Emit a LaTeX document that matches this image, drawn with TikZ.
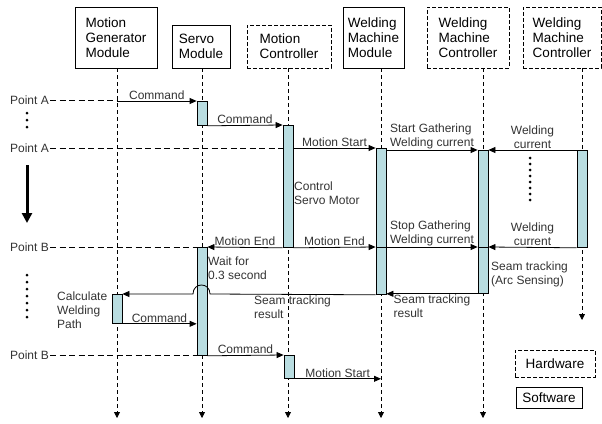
\documentclass[tikz,border=0pt]{standalone}
\usepackage{fontspec}
\setmainfont{Liberation Sans}
\usetikzlibrary{arrows.meta}
\definecolor{actblue}{HTML}{B9DDE1}
\definecolor{lblgray}{HTML}{333333}
\begin{document}
\begin{tikzpicture}[x=1pt,y=-1pt,
  swbox/.style={draw,line width=0.8pt,align=left,inner sep=0pt,font=\fontsize{13.5}{15}\selectfont},
  hwbox/.style={swbox,dash pattern=on 4pt off 2pt},
  act/.style={draw,line width=0.8pt,fill=actblue,minimum width=10pt,inner sep=0pt,anchor=north},
  life/.style={line width=0.8pt,dash pattern=on 4pt off 3pt,-{Triangle[length=6pt,width=6pt]}},
  msg/.style={line width=0.8pt,-{Triangle[length=7pt,width=6pt]}},
  ptline/.style={line width=0.8pt,dash pattern=on 6pt off 3.5pt},
  lbl/.style={text=lblgray,font=\fontsize{12}{14}\selectfont,align=left,inner sep=1pt}]
  \useasboundingbox (0,0) rectangle (602,423);

  \node[swbox,minimum width=82,minimum height=61] (mgm) at (116,37.5) {Motion\\Generator\\Module};
  \node[swbox,minimum width=58,minimum height=43] (srv) at (201,46.5) {Servo\\Module};
  \node[hwbox,minimum width=84,minimum height=43] (mc) at (289,46.5) {Motion\\Controller};
  \node[swbox,minimum width=61,minimum height=61] (wmm) at (373.5,37.5) {Welding\\Machine\\Module};
  \node[hwbox,minimum width=82,minimum height=61] (wmc) at (468,37.5) {Welding\\Machine\\Controller};
  \node[hwbox,minimum width=78,minimum height=61] (wmcb) at (562,37.5) {Welding\\Machine\\Controller};

  \foreach \n/\x/\e in {mgm/117/418,srv/202/418,mc/288/418,wmm/381/418,wmc/483/418,wmcb/582/320}
  {
    \coordinate (end\n) at (\x,\e);
    \draw[life] (end\n |- \n.south) -- (end\n);
  }

  \node[lbl,anchor=east] (ptA1) at (50,100) {Point A};
  \node[lbl,anchor=east] (ptA2) at (50,148) {Point A};
  \node[lbl,anchor=east] (ptB1) at (50,247) {Point B};
  \node[lbl,anchor=east] (ptB2) at (50,355) {Point B};

  \foreach \n/\x/\t/\h in {sv1/202/101/24,mc1/288/125/122,wmm1/381/148/99,wmm2/381/247/47,
    wmc1/483/150/97,wmc2/483/247/46,wmcb1/582/150/97,sv2/202/247/108,mgm1/117/294/29,mc2/289/355/23}
    \node[act,minimum height=\h] (\n) at (\x,\t) {};

  \draw[ptline] (ptA1.east) -- (ptA1.east -| endmgm);
  \draw[ptline] (ptA2.east) -- (ptA2.east -| mc1.west);
  \draw[ptline] (ptB1.east) -- (ptB1.east -| sv2.west);
  \draw[ptline] (ptB2.east) -- (ptB2.east -| sv2.west);

  \draw[msg] (sv1.north west -| endmgm) -- (sv1.north west) node[lbl,above,midway] {Command};
  \draw[msg] (sv1.south east) -- (mc1.north west) node[lbl,above,midway] {Command};
  \draw[msg] (wmm1.north west -| mc1.east) -- (wmm1.north west) node[lbl,above,midway] {Motion Start};
  \draw[msg] (wmc1.north west -| wmm1.east) -- (wmc1.north west) node[lbl,above,midway] {Start Gathering\\Welding current};
  \draw[msg] (wmcb1.north west) -- (wmcb1.north west -| wmc1.east) node[lbl,above,midway,align=center] {Welding\\current};
  \draw[msg] (mc1.south west) -- (sv2.north east) node[lbl,above,midway] {Motion End};
  \draw[msg] (mc1.south east) -- (wmm2.north west) node[lbl,above,midway] {Motion End};
  \draw[msg] (wmm2.north east) -- (wmc2.north west) node[lbl,above,midway] {Stop Gathering\\Welding current};
  \draw[msg] (wmcb1.south west) -- (wmc2.north east) node[lbl,above,midway,align=center] {Welding\\current};
  \draw[msg] (wmc2.south west) -- (wmc2.south west -| wmm2.east) node[lbl,below,midway] {Seam tracking\\result};

  \coordinate (jumpR) at (210,294);
  \coordinate (jumpL) at (193,294);
  \draw[msg] (wmm2.south west) -- (jumpR) .. controls +(0,-12) and +(0,-12) .. (jumpL) -- (mgm1.north east);
  \draw[msg] (mgm1.south east) -- (mgm1.south east -| sv2.west) node[lbl,above,midway] {Command};
  \draw[msg] (sv2.south east) -- (mc2.north west) node[lbl,above,midway] {Command};
  \draw[msg] (mc2.south east) -- (mc2.south east -| endwmm) node[lbl,above,midway] {Motion Start};

  \node[lbl,anchor=west] (ctrl) at (293,193) {Control\\Servo Motor};
  \node[lbl,anchor=west] (wait) at (207,268.5) {Wait for\\0.3 second};
  \node[lbl,anchor=west] (arc) at (490,274) {Seam tracking\\(Arc Sensing)};
  \node[lbl,anchor=north west] (seam) at (253,295) {Seam tracking\\result};
  \node[lbl,anchor=west] (calc) at (56,310) {Calculate\\Welding\\Path};

  \foreach \y in {113,120,127}
    \fill (27,\y) circle (1.5);
  \foreach \y in {275,282,...,317}
    \fill (27,\y) circle (1.5);
  \foreach \y in {158,164,...,200}
    \fill (530,\y) circle (1.5);
  \draw[line width=3pt,-{Triangle[length=10pt,width=10pt]}] (27,165) -- (27,223);

  \node[hwbox,minimum width=80,minimum height=27] (hw) at (555,363.5) {Hardware};
  \node[swbox,minimum width=66,minimum height=21] (sw) at (549,397.5) {Software};
\end{tikzpicture}
\end{document}
